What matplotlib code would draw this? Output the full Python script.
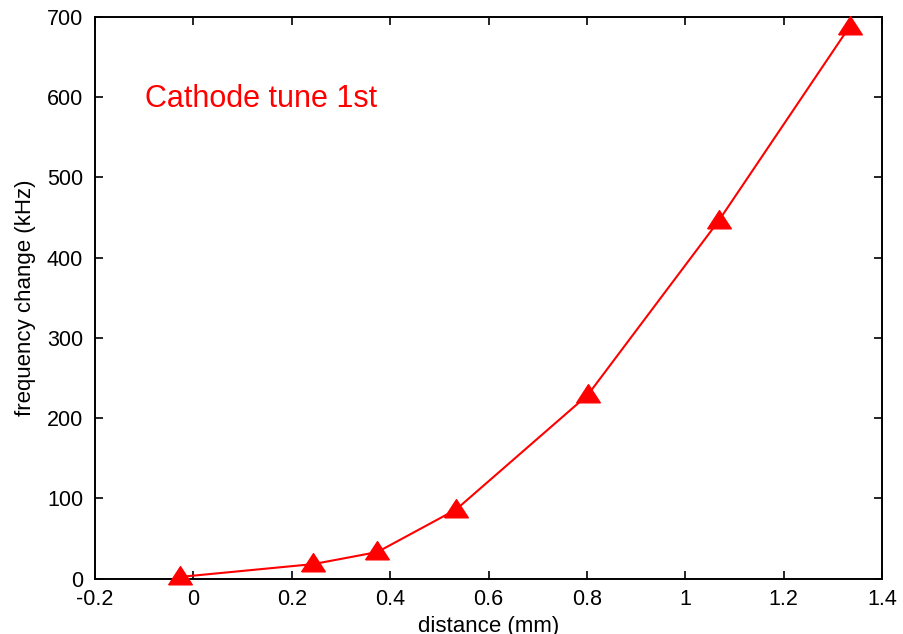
import matplotlib
matplotlib.use("Agg")
import matplotlib.pyplot as plt

# Measured frequency shift versus cathode distance
distance_mm = [-0.027, 0.244, 0.374, 0.534, 0.802, 1.068, 1.334]
freq_change_khz = [2, 18, 33, 86, 229, 446, 688]

x_ticks = [-0.2, 0, 0.2, 0.4, 0.6, 0.8, 1, 1.2, 1.4]
x_tick_labels = ["-0.2", "0", "0.2", "0.4", "0.6", "0.8", "1", "1.2", "1.4"]
y_ticks = [0, 100, 200, 300, 400, 500, 600, 700]

plt.rcParams["font.family"] = ["Liberation Sans", "DejaVu Sans"]

fig = plt.figure(figsize=(9.04, 6.34), dpi=100)
ax = fig.add_axes([0.1051, 0.0875, 0.8706, 0.8857])

# filled triangle, slightly wider than tall
tri = [(-1.0, -0.62), (1.0, -0.62), (0.0, 0.92), (-1.0, -0.62)]

ax.plot(distance_mm, freq_change_khz, color="red", lw=1.5,
        marker=tri, markersize=17, markerfacecolor="red",
        markeredgecolor="red", clip_on=False, zorder=3)

ax.set_xlim(-0.2, 1.4)
ax.set_ylim(0, 700)
ax.set_xticks(x_ticks)
ax.set_xticklabels(x_tick_labels)
ax.set_yticks(y_ticks)

ax.tick_params(direction="in", length=6, width=1.2, top=True, right=True,
               labelsize=15.5, colors="black")
ax.tick_params(axis="x", pad=7.2)
ax.tick_params(axis="y", pad=8.5)
for s in ax.spines.values():
    s.set_linewidth(1.4)

ax.set_xlabel("distance (mm)", fontsize=16, labelpad=4.5)
ax.set_ylabel("frequency change (kHz)", fontsize=16, labelpad=8)

ax.text(-0.098, 588, "Cathode tune 1st", color="red", fontsize=22,
        va="baseline", ha="left")

fig.savefig("out.png", dpi=100)
